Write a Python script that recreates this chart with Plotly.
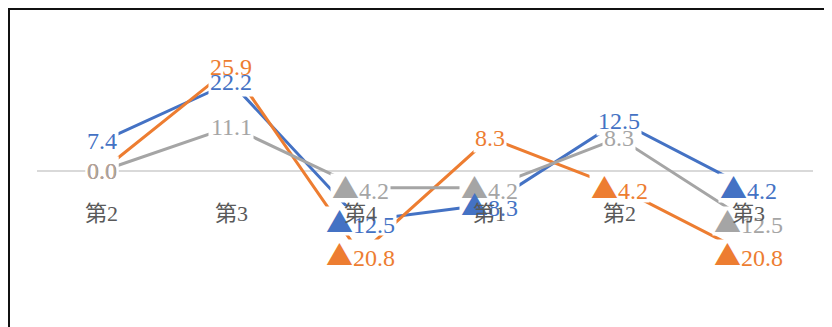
import plotly.graph_objects as go

QUARTERS = ["第2", "第3", "第4", "第1", "第2", "第3"]
SERIES_NAMES = ["系列1", "系列2", "系列3"]
BLUE_VALUES = [7.4, 22.2, -12.5, -8.3, 12.5, -4.2]
ORANGE_VALUES = [0.0, 25.9, -20.8, 8.3, -4.2, -20.8]
GRAY_VALUES = [0.0, 11.1, -4.2, -4.2, 8.3, -12.5]

COLORS = ["#4472C4", "#ED7D31", "#A5A5A5"]
SERIF = "Liberation Serif, 'Noto Sans CJK JP', serif"
LABEL_SIZE = 24
TRI_SIZE = 27

# page body keeps its default 8px margin, so the figure is 8px smaller each way
WIDTH, HEIGHT = 824, 319
MARGIN = dict(l=29, r=19, t=0, b=0)


def fmt(v):
    # negative numbers shown with a full-width triangle, Japanese style
    if v < 0:
        return (f"<span style=\"font-family:'Noto Sans CJK JP';font-size:{TRI_SIZE}px\">▲</span>"
                + f"{abs(v):.1f}")
    return f"{v:.1f}"


def label_width(v):
    # rough pixel width of the label, for the white box that cuts the lines
    s = f"{abs(v):.1f}"
    w = (len(s) - 1) * LABEL_SIZE * 0.5 + LABEL_SIZE * 0.25
    return w + (TRI_SIZE if v < 0 else 0) + 2


xs = list(range(len(QUARTERS)))
series = list(zip(SERIES_NAMES, [BLUE_VALUES, ORANGE_VALUES, GRAY_VALUES], COLORS))

fig = go.Figure()
for name, vals, color in series:
    fig.add_trace(go.Scatter(
        x=xs, y=vals, name=name, mode="lines",
        line=dict(color=color, width=3),
        hoverinfo="skip",
    ))

annotations = []
# white boxes first: they cut the lines under the labels but not other labels
for name, vals, color in series:
    for x, v in zip(xs, vals):
        annotations.append(dict(
            x=x, y=v, xref="x", yref="y", text=" ", showarrow=False,
            xanchor="center", yanchor="middle", bgcolor="white", borderpad=0,
            width=label_width(v), height=28,
            font=dict(family=SERIF, size=LABEL_SIZE, color="white"),
        ))
# then the label texts: orange, gray, blue on top
for idx in [1, 2, 0]:
    name, vals, color = series[idx]
    for x, v in zip(xs, vals):
        annotations.append(dict(
            x=x, y=v, xref="x", yref="y", text=fmt(v), showarrow=False,
            xanchor="center", yanchor="middle", borderpad=0,
            font=dict(family=SERIF, size=LABEL_SIZE, color=color),
        ))

for x, q in zip(xs, QUARTERS):
    annotations.append(dict(
        x=x, y=0, xref="x", yref="y", text=q, showarrow=False,
        xanchor="center", yanchor="middle", yshift=-42,
        font=dict(family=SERIF, size=22, color="#595959"),
    ))

plot_w = WIDTH - MARGIN["l"] - MARGIN["r"]
fig.update_layout(
    width=WIDTH, height=HEIGHT,
    margin=MARGIN,
    paper_bgcolor="white", plot_bgcolor="white",
    showlegend=False,
    xaxis=dict(range=[-0.5, 5.5], showgrid=False, zeroline=False,
               showticklabels=False, fixedrange=True),
    yaxis=dict(range=[-39, 40.75], showgrid=False, zeroline=True,
               zerolinecolor="#D9D9D9", zerolinewidth=1.5,
               showticklabels=False, fixedrange=True),
    annotations=annotations,
    shapes=[dict(type="rect", xref="paper", yref="paper",
                 x0=-(MARGIN["l"] - 1) / plot_w, x1=1.1,
                 y0=-0.1, y1=1 - 1 / HEIGHT,
                 line=dict(color="#111111", width=2), layer="above")],
)

fig.write_html("out.html", config={"displayModeBar": False})
